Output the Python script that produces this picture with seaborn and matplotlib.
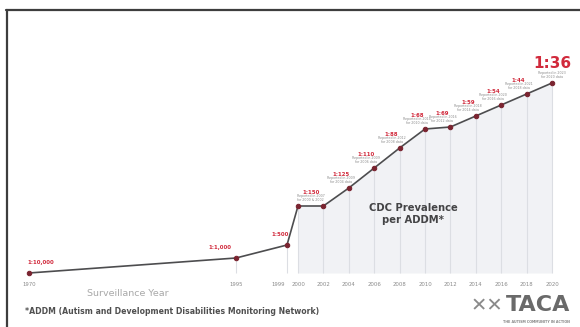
import numpy as np
import matplotlib
matplotlib.use("Agg")
import matplotlib.pyplot as plt
import matplotlib.transforms as mtrans
import seaborn as sns
from matplotlib.lines import Line2D

# ---------------- data ----------------
years = [1970, 1995, 1999, 2000, 2002, 2004, 2006, 2008, 2010, 2012, 2014, 2016, 2018, 2020]
ratio_labels = ["1:10,000", "1:1,000", "1:500", "1:150", "", "1:125", "1:110", "1:88",
                "1:68", "1:69", "1:59", "1:54", "1:44", "1:36"]
# plotted height of the trend line (chart has no y axis)
trend_height = [0, 15, 28, 67, 67, 85, 105, 125, 144, 146, 157, 168, 179, 190]
report_notes = ["", "", "",
                "Reported in 2007\nfor 2000 & 2002", "",
                "Reported in 2009\nfor 2004 data", "Reported in 2009\nfor 2006 data",
                "Reported in 2012\nfor 2008 data", "Reported in 2014\nfor 2010 data",
                "Reported in 2016\nfor 2012 data", "Reported in 2018\nfor 2014 data",
                "Reported in 2020\nfor 2016 data", "Reported in 2021\nfor 2018 data",
                "Reported in 2023\nfor 2020 data"]
tick_labels = [str(y) for y in years]

# ---------------- style ----------------
W, H = 580, 327
sns.set_theme(style="white")
plt.rcParams["font.family"] = ["DejaVu Sans"]
fig = plt.figure(figsize=(W / 100, H / 100), dpi=100)
fig.patch.set_facecolor("white")

def fx(x):
    return x / W

def fy(y):
    return 1 - y / H

# axes: px 20..572 horizontally, 45..276 vertically
ax = fig.add_axes([fx(20), fy(276), fx(552), (276 - 45) / H])
ax.set_facecolor("white")

# piecewise (broken) year axis like the original
anch_y = np.array([1960.0, 1970.0, 1995.0, 1999.0, 2000.0, 2030.0])
anch_p = np.array([-82.8, 0.0, 207.0, 258.0, 269.0, 650.0])

def fwd(v):
    return np.interp(v, anch_y, anch_p)

def inv(v):
    return np.interp(v, anch_p, anch_y)

ax.set_xscale("function", functions=(fwd, inv))

red = "#d12a3c"
line_c = "#4d4d4f"
grid_c = "#dcdee3"

# light fill under the modern part of the curve
yrs = np.array(years)
hts = np.array(trend_height)
mask = yrs >= 2000
ax.fill_between(yrs[mask], 0, hts[mask], color="#f1f2f5", zorder=0, lw=0)
ax.vlines(yrs, 0, hts, color=grid_c, lw=0.8, zorder=1)

sns.lineplot(x=years, y=trend_height, ax=ax, color=line_c, lw=1.2, zorder=3,
             marker="o", markersize=3.2, markerfacecolor="#7a2430",
             markeredgecolor="#7a2430", estimator=None)

ax.set_xlim(inv(-9), inv(543))
ax.set_ylim(-3, 228)
ax.set_xticks(years)
ax.set_xticklabels(tick_labels, fontsize=3.9, color="#8a8a8a")
ax.tick_params(axis="x", length=0, pad=4)
ax.set_yticks([])
ax.minorticks_off()
for s in ax.spines.values():
    s.set_visible(False)

# nudge crowded tick labels apart (1999 left of 2000)
for t in ax.get_xticklabels():
    if t.get_text() == "1999":
        t.set_transform(t.get_transform() + mtrans.ScaledTranslation(-9 / 100, 0, fig.dpi_scale_trans))
    if t.get_text() == "2000":
        t.set_transform(t.get_transform() + mtrans.ScaledTranslation(1 / 100, 0, fig.dpi_scale_trans))

# ratio labels
for i, (yr, h, lab, note) in enumerate(zip(years, trend_height, ratio_labels, report_notes)):
    if not lab:
        continue
    xpos = yr
    dx = -8
    if yr == 2000:
        xpos = (years[i] + years[i + 1]) / 2
        dx = 0
    if yr == 2020:
        dx = 0
    if note:
        big = yr == 2020
        ax.annotate(note, (xpos, h), xytext=(dx, 4), textcoords="offset pixels",
                    ha="center", va="bottom", fontsize=2.3, color="#8c8c8c",
                    linespacing=1.0, zorder=5)
        ax.annotate(lab, (xpos, h), xytext=(dx, 11 if not big else 12),
                    textcoords="offset pixels", ha="center", va="bottom",
                    fontsize=11 if big else 3.9, fontweight="bold", color=red, zorder=5)
    else:
        ha = "left" if yr == 1970 else "center"
        ddx = -2 if yr == 1970 else (-16 if yr == 1995 else -7)
        ax.annotate(lab, (xpos, h), xytext=(ddx, 8), textcoords="offset pixels",
                    ha=ha, va="bottom", fontsize=3.9, fontweight="bold", color=red, zorder=5)

# texts
fig.text(fx(413), fy(214), "CDC Prevalence\nper ADDM*", ha="center", va="center",
         fontsize=7.2, fontweight="bold", color="#444446", linespacing=1.3)
fig.text(fx(128), fy(294), "Surveillance Year", ha="center", va="center",
         fontsize=6.8, color="#a8a8a8")
fig.text(fx(25), fy(312), "*ADDM (Autism and Development Disabilities Monitoring Network)",
         ha="left", va="center", fontsize=5.6, fontweight="bold", color="#505050")

# TACA logo
fig.text(fx(503), fy(306), "✕✕", ha="right", va="center", fontsize=14,
         color="#8a8a8a", family=["DejaVu Sans"])
fig.text(fx(538), fy(305), "TACA", ha="center", va="center", fontsize=16,
         fontweight="bold", color="#6a6a6a")
fig.text(fx(536), fy(322), "THE AUTISM COMMUNITY IN ACTION", ha="center", va="center",
         fontsize=2.4, color="#888888", fontweight="bold")

# frame lines (top and left)
fig.add_artist(Line2D([fx(6), 1], [fy(9.5), fy(9.5)], color="#3d3d3d", lw=1.6))
fig.add_artist(Line2D([fx(6.5), fx(6.5)], [fy(9.5), 0], color="#3d3d3d", lw=1.6))

fig.savefig("out.png", dpi=100, facecolor="white")
